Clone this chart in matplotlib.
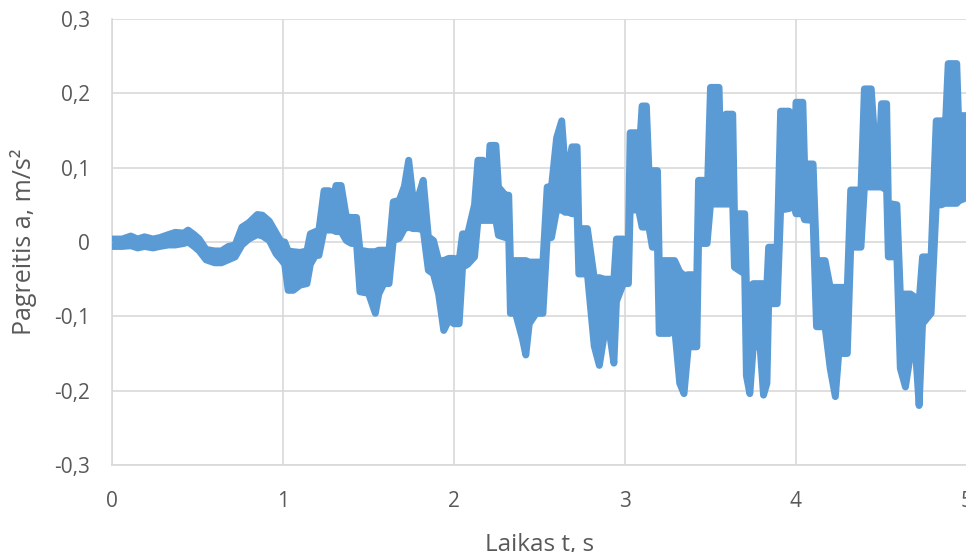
import numpy as np
import matplotlib.pyplot as plt

# time axis, s (at the feature edges)
t = [0.00, 0.06, 0.11, 0.15, 0.19, 0.24, 0.28, 0.33, 0.37, 0.42, 0.445, 0.48, 0.51,
     0.55, 0.60, 0.64, 0.68, 0.72, 0.76, 0.80, 0.85, 0.88, 0.92, 0.96, 0.99,
     1.01, 1.03, 1.06, 1.10, 1.14, 1.16, 1.19, 1.21, 1.24, 1.27, 1.29, 1.31, 1.34,
     1.37, 1.40, 1.43, 1.45, 1.50, 1.54, 1.56, 1.59, 1.62, 1.645, 1.68, 1.71,
     1.735, 1.76, 1.79, 1.82, 1.85, 1.88, 1.91, 1.94, 1.97, 2.00, 2.03, 2.05,
     2.08, 2.12, 2.14, 2.17, 2.18, 2.20, 2.21, 2.245, 2.26, 2.30, 2.32, 2.33,
     2.36, 2.40, 2.42, 2.44, 2.48, 2.52, 2.545, 2.57, 2.60, 2.63, 2.65, 2.67,
     2.69, 2.72, 2.73, 2.78, 2.82, 2.85, 2.88, 2.91, 2.935, 2.95, 2.99, 3.02,
     3.03, 3.07, 3.08, 3.10, 3.125, 3.14, 3.16, 3.19, 3.20, 3.26, 3.29, 3.32,
     3.345, 3.37, 3.42, 3.43, 3.46, 3.48, 3.50, 3.55, 3.56, 3.58, 3.59, 3.63,
     3.64, 3.70, 3.71, 3.73, 3.75, 3.79, 3.81, 3.83, 3.84, 3.89, 3.91, 3.96,
     3.97, 3.99, 4.00, 4.04, 4.05, 4.10, 4.12, 4.17, 4.20, 4.23, 4.25, 4.30,
     4.32, 4.38, 4.40, 4.44, 4.46, 4.49, 4.50, 4.53, 4.54, 4.59, 4.61, 4.64,
     4.67, 4.70, 4.72, 4.74, 4.79, 4.82, 4.85, 4.87, 4.89, 4.94, 4.95, 5.00]

# upper edge of the noisy trace, m/s^2
a_hi = [0.004, 0.004, 0.008, 0.004, 0.007, 0.004, 0.006, 0.010, 0.013, 0.012, 0.016, 0.010, 0.004,
        -0.010, -0.012, -0.012, -0.006, -0.004, 0.020, 0.026, 0.037, 0.036, 0.028, 0.012, 0.000,
        0.000, -0.012, -0.013, -0.014, -0.012, 0.011, 0.014, 0.016, 0.069, 0.069, 0.055, 0.076, 0.076,
        0.034, 0.033, 0.033, -0.011, -0.013, -0.013, -0.011, -0.011, -0.011, 0.054, 0.056, 0.075,
        0.110, 0.060, 0.060, 0.083, 0.007, 0.002, -0.025, -0.025, -0.022, -0.022, -0.025, 0.011,
        0.011, 0.050, 0.110, 0.110, 0.083, 0.083, 0.130, 0.130, 0.074, 0.063, 0.063, -0.025,
        -0.025, -0.025, -0.025, -0.027, -0.027, -0.027, 0.074, 0.074, 0.140, 0.163, 0.100, 0.100,
        0.128, 0.128, 0.018, 0.018, -0.048, -0.048, -0.050, -0.050, -0.050, 0.004, 0.004, 0.002,
        0.147, 0.147, 0.110, 0.183, 0.183, 0.096, 0.096, 0.096, -0.025, -0.025, -0.025, -0.040,
        -0.045, -0.044, -0.044, 0.083, 0.083, 0.055, 0.208, 0.208, 0.110, 0.110, 0.172, 0.172,
        0.038, 0.038, -0.060, -0.060, -0.056, -0.056, -0.056, -0.056, -0.007, -0.007, 0.176, 0.176,
        0.110, 0.110, 0.188, 0.188, 0.105, 0.105, -0.025, -0.025, -0.061, -0.061, -0.061, -0.061,
        0.070, 0.070, 0.206, 0.206, 0.137, 0.137, 0.186, 0.186, 0.052, 0.050, -0.070, -0.070,
        -0.070, -0.075, -0.080, -0.020, -0.020, 0.163, 0.163, 0.137, 0.240, 0.240, 0.170, 0.170]

# lower edge of the noisy trace, m/s^2
a_lo = [-0.006, -0.006, -0.005, -0.008, -0.006, -0.008, -0.006, -0.004, -0.004, -0.002, 0.000, -0.006, -0.012,
        -0.024, -0.028, -0.028, -0.024, -0.020, -0.004, 0.004, 0.010, 0.008, 0.002, -0.016, -0.024,
        -0.030, -0.065, -0.065, -0.058, -0.056, -0.030, -0.018, -0.018, 0.016, 0.016, 0.016, 0.014, 0.014,
        0.002, -0.002, -0.002, -0.067, -0.069, -0.096, -0.070, -0.056, -0.056, 0.002, 0.005, 0.018,
        0.020, 0.018, 0.018, 0.016, -0.038, -0.043, -0.070, -0.119, -0.105, -0.110, -0.110, -0.034,
        -0.030, -0.020, 0.029, 0.029, 0.029, 0.029, 0.029, 0.029, 0.009, 0.006, 0.006, -0.096,
        -0.096, -0.130, -0.152, -0.110, -0.096, -0.096, 0.006, 0.006, 0.043, 0.043, 0.040, 0.040,
        0.038, 0.038, -0.043, -0.043, -0.140, -0.166, -0.123, -0.123, -0.163, -0.080, -0.056, -0.056,
        0.043, 0.043, 0.043, 0.020, 0.020, 0.020, -0.007, -0.007, -0.123, -0.123, -0.115, -0.190,
        -0.204, -0.141, -0.141, -0.002, -0.002, -0.002, 0.051, 0.051, 0.051, 0.051, 0.051, 0.051,
        -0.034, -0.043, -0.180, -0.204, -0.141, -0.141, -0.206, -0.190, -0.083, -0.083, 0.043, 0.045,
        0.047, 0.047, 0.038, 0.038, 0.030, 0.029, -0.114, -0.114, -0.170, -0.208, -0.150, -0.150,
        -0.007, -0.007, 0.074, 0.074, 0.074, 0.074, 0.074, 0.070, -0.020, -0.020, -0.170, -0.195,
        -0.150, -0.150, -0.220, -0.110, -0.096, 0.050, 0.050, 0.052, 0.052, 0.052, 0.055, 0.060]

x_ticks = [0, 1, 2, 3, 4, 5]
y_ticks = [-0.3, -0.2, -0.1, 0.0, 0.1, 0.2, 0.3]
y_tick_labels = ["-0,3", "-0,2", "-0,1", "0", "0,1", "0,2", "0,3"]

blue = "#5B9BD5"
grid_c = "#D9D9D9"
text_c = "#595959"

plt.rcParams['font.family'] = ['Open Sans', 'DejaVu Sans']

fig = plt.figure(figsize=(9.66, 5.52), dpi=100)
ax = fig.add_axes([112 / 966, 87 / 552, 855 / 966, 446 / 552])

# the trace is a thick noisy band: fill between its edges, then stroke the edges
ax.fill_between(t, a_lo, a_hi, color=blue, lw=0, zorder=3)
ax.plot(t, a_hi, color=blue, lw=5, solid_joinstyle='round', solid_capstyle='round', zorder=3)
ax.plot(t, a_lo, color=blue, lw=5, solid_joinstyle='round', solid_capstyle='round', zorder=3)

ax.set_xlim(0, 5)
ax.set_ylim(-0.3, 0.3)
ax.set_xticks(x_ticks)
ax.set_yticks(y_ticks)
ax.set_yticklabels(y_tick_labels)

ax.grid(True, color=grid_c, lw=1.2, zorder=0)
ax.set_axisbelow(True)
for side in ["top", "right"]:
    ax.spines[side].set_visible(False)
for side in ["left", "bottom"]:
    ax.spines[side].set_color(grid_c)
    ax.spines[side].set_linewidth(1.2)

ax.tick_params(axis='both', length=0, labelsize=15, colors=text_c)
ax.tick_params(axis='x', pad=19)
ax.tick_params(axis='y', pad=16)

ax.set_xlabel("Laikas t, s", fontsize=17.5, color=text_c)
ax.xaxis.set_label_coords(0.5, -0.153)
ax.set_ylabel("Pagreitis a, m/s²", fontsize=18, color=text_c)
ax.yaxis.set_label_coords(-0.088, 0.5)

fig.savefig("out.png", dpi=100)
